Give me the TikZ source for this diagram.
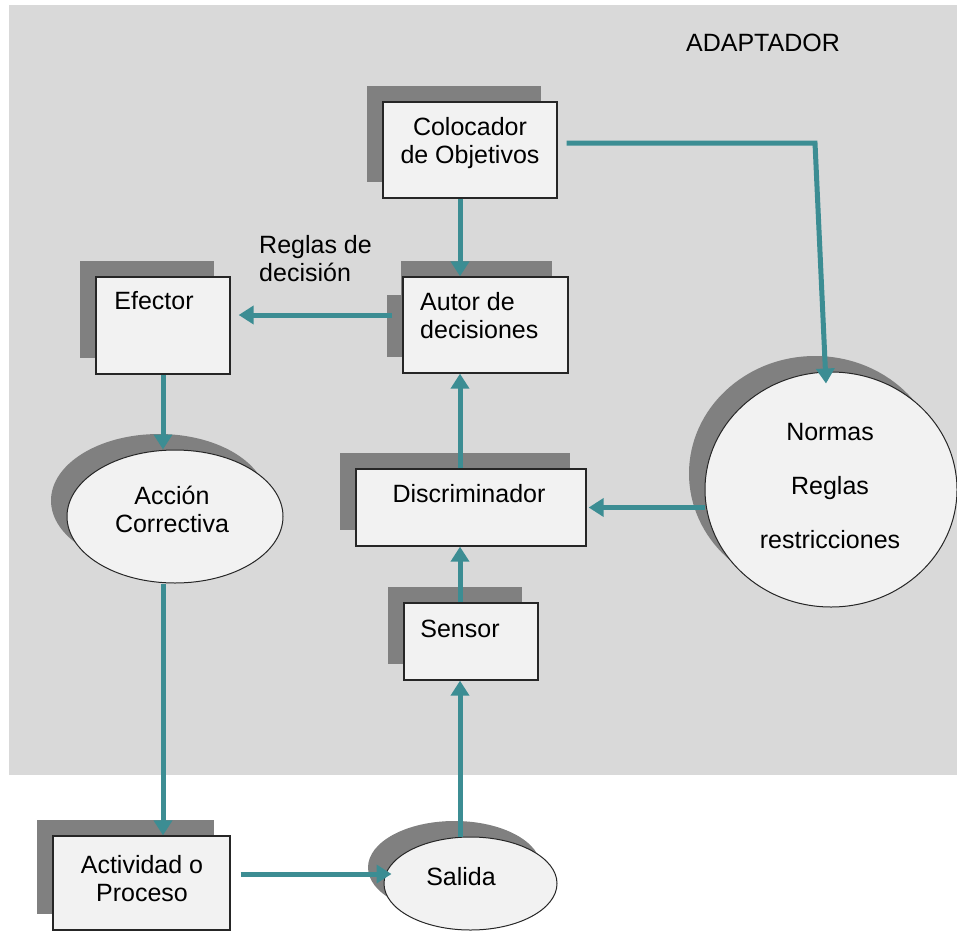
\documentclass[tikz,border=0pt]{standalone}
\usepackage{fontspec}
\setmainfont{Liberation Sans}
\usetikzlibrary{arrows.meta,shapes.geometric,shadows}
\definecolor{bggray}{RGB}{217,217,217}
\definecolor{shgray}{RGB}{128,128,128}
\definecolor{boxfill}{RGB}{242,242,242}
\definecolor{arrteal}{RGB}{60,141,147}
\begin{document}
\begin{tikzpicture}[x=1pt,y=-1pt,
  shad/.style={drop shadow={shadow xshift=-16pt,shadow yshift=16pt,fill=shgray,opacity=1}},
  box/.style={rectangle,draw=black!85,line width=1.3pt,fill=boxfill,inner sep=0pt,shad},
  oval/.style={ellipse,draw=black!85,line width=1pt,fill=boxfill,inner sep=0pt,shad},
  lbl/.style={font=\fontsize{25}{28}\selectfont,inner sep=0pt,align=center,text=black},
  arr/.style={draw=arrteal,line width=5pt,-{Triangle[width=18pt,length=15pt]}}]
\useasboundingbox (0,0) rectangle (957,931);
\fill[bggray] (9,5) rectangle (957,775);
\coordinate (x460) at (460,0);
\coordinate (corner1) at (815,143);

% nodes
\node[box,minimum width=174pt,minimum height=96pt] (colocador) at (470,150) {};
\node[box,minimum width=165pt,minimum height=96pt] (autor) at (485.5,325) {};
\node[box,minimum width=134pt,minimum height=97pt] (efector) at (163,325.5) {};
\node[box,minimum width=230pt,minimum height=77pt] (discr) at (471,507.5) {};
\node[box,minimum width=134pt,minimum height=77pt] (sensor) at (471,641.5) {};
\node[box,minimum width=177pt,minimum height=94pt] (actividad) at (141.5,883) {};
\node[oval,minimum width=216pt,minimum height=133pt] (accion) at (175,516.5) {};
\node[oval,minimum width=252pt,minimum height=235pt] (normas) at (831,489.5) {};
\node[oval,minimum width=173pt,minimum height=93pt] (salida) at (470.5,883.5) {};

% texts
\node[lbl] (tadaptador) at (763,43) {ADAPTADOR};
\fill[bggray] (245,225) rectangle (401,295);
\node[lbl,align=left,anchor=west] (treglas) at (259,259) {Reglas de\\decisión};
\node[lbl] (tcolocador) at (470,143) {Colocador\\de Objetivos};
\node[lbl,align=left,anchor=west] (tautor) at (420,316) {Autor de\\decisiones};
\node[lbl] (tefector) at (154,301) {Efector};
\node[lbl] (tdiscr) at (469,494) {Discriminador};
\node[lbl] (tsensor) at (460,629) {Sensor};
\node[lbl] (taccion) at (172,509) {Acción\\Correctiva};
\node[lbl] (tnormas) at (830,486) {Normas\\[26pt]Reglas\\[26pt]restricciones};
\node[lbl] (tactividad) at (142,879) {Actividad o\\Proceso};
\node[lbl] (tsalida) at (461,877) {Salida};

% connectors
\draw[arr] (colocador.south -| x460) -- (autor.north -| x460);
\draw[arr] ([xshift=9pt,yshift=7pt]colocador.east) -- (corner1) -- ([xshift=-5pt,yshift=-12pt]normas.north);
\draw[arr] ([xshift=-10pt,yshift=10pt]autor.west) -- ([xshift=8pt,yshift=10.5pt]efector.east);
\draw[arr] (discr.north -| x460) -- (autor.south -| x460);
\draw[arr] (sensor.north -| x460) -- (discr.south -| x460);
\draw[arr] (normas.west |- discr.east) -- ([xshift=2pt]discr.east);
\draw[arr] (efector.south) -- (accion.north -| efector.south);
\draw[arr] (accion.south -| efector.south) -- (actividad.north -| efector.south);
\draw[arr] ([xshift=10pt,yshift=9pt]actividad.east) -- ([xshift=8pt,yshift=9.5pt]salida.west);
\draw[arr] (salida.north -| x460) -- (sensor.south -| x460);
\end{tikzpicture}
\end{document}
